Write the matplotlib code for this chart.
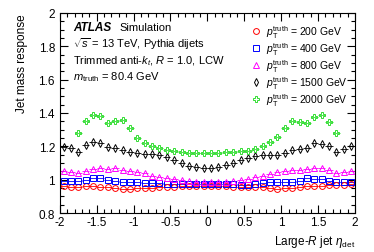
import numpy as np
import matplotlib
matplotlib.use("Agg")
import matplotlib.pyplot as plt
from matplotlib.lines import Line2D
from matplotlib.ticker import MultipleLocator, FormatStrFormatter

plt.rcParams['font.family'] = ['Liberation Sans', 'DejaVu Sans']
plt.rcParams['mathtext.fontset'] = 'custom'
plt.rcParams['mathtext.rm'] = 'Liberation Sans'
plt.rcParams['mathtext.it'] = 'Liberation Sans:italic'
plt.rcParams['mathtext.bf'] = 'Liberation Sans:bold'

# bin centres in eta_det (width 0.1)
eta = np.round(np.arange(-1.95, 2.0, 0.1), 2)

resp_200 = [0.964, 0.955, 0.955, 0.960, 0.960, 0.958, 0.954, 0.948, 0.945, 0.944,
            0.948, 0.948, 0.953, 0.955, 0.957, 0.958, 0.960, 0.960, 0.962, 0.963,
            0.963, 0.962, 0.960, 0.958, 0.958, 0.958, 0.954, 0.954, 0.948, 0.944,
            0.948, 0.948, 0.954, 0.960, 0.960, 0.964, 0.968, 0.968, 0.968, 0.974]
resp_400 = [0.993, 0.993, 0.993, 0.999, 1.008, 1.010, 0.999, 0.993, 0.987, 0.984,
            0.984, 0.980, 0.980, 0.978, 0.976, 0.975, 0.974, 0.973, 0.972, 0.972,
            0.972, 0.972, 0.972, 0.972, 0.970, 0.968, 0.974, 0.980, 0.984, 0.984,
            0.984, 0.987, 0.993, 1.008, 1.004, 1.004, 0.993, 0.987, 0.987, 0.987]
resp_800 = [1.050, 1.045, 1.040, 1.050, 1.062, 1.068, 1.065, 1.068, 1.060, 1.055,
            1.048, 1.038, 1.025, 1.014, 1.008, 1.003, 0.998, 0.990, 0.985, 0.984,
            0.984, 0.985, 0.988, 0.993, 0.998, 1.004, 1.014, 1.023, 1.034, 1.044,
            1.053, 1.059, 1.059, 1.063, 1.068, 1.068, 1.059, 1.040, 1.047, 1.053]
resp_1500 = [1.197, 1.187, 1.169, 1.209, 1.223, 1.217, 1.197, 1.187, 1.179, 1.169,
             1.163, 1.157, 1.157, 1.149, 1.134, 1.120, 1.100, 1.085, 1.077, 1.070,
             1.070, 1.077, 1.089, 1.100, 1.120, 1.130, 1.140, 1.149, 1.149, 1.149,
             1.163, 1.177, 1.183, 1.189, 1.217, 1.213, 1.199, 1.169, 1.183, 1.199]
resp_2000 = [np.nan, np.nan, 1.280, 1.350, 1.390, 1.380, 1.340, 1.350, 1.360, 1.310,
             1.250, 1.220, 1.200, 1.190, 1.180, 1.170, 1.165, 1.160, 1.160, 1.160,
             1.160, 1.160, 1.165, 1.165, 1.170, 1.170, 1.183, 1.203, 1.223, 1.257,
             1.307, 1.353, 1.343, 1.339, 1.377, 1.389, 1.347, 1.277, np.nan, np.nan]

series = [
    (resp_200, 'o', '#ff0000', 4.2, r'$p_{\mathrm{T}}^{\mathrm{truth}}$ = 200 GeV'),
    (resp_400, 's', '#0000ff', 4.0, r'$p_{\mathrm{T}}^{\mathrm{truth}}$ = 400 GeV'),
    (resp_800, '^', '#ff00ff', 4.5, r'$p_{\mathrm{T}}^{\mathrm{truth}}$ = 800 GeV'),
    (resp_1500, 'd', '#000000', 3.6, r'$p_{\mathrm{T}}^{\mathrm{truth}}$ = 1500 GeV'),
    (resp_2000, 'P', '#33dd33', 4.8, r'$p_{\mathrm{T}}^{\mathrm{truth}}$ = 2000 GeV'),
]

fig = plt.figure(figsize=(3.74, 2.53), dpi=100)
ax = fig.add_axes([0.16, 0.154, 0.789, 0.791])

handles = []
for vals, mk, col, ms, lab in series:
    ax.errorbar(eta, vals, xerr=0.05, fmt=mk, mfc='none', mec=col, ecolor=col,
                ms=ms, mew=0.7, elinewidth=0.6, capsize=0)
    handles.append(Line2D([], [], ls='none', marker=mk, mfc='none', mec=col,
                          ms=ms, mew=0.7, label=lab))

ax.set_xlim(-2, 2)
ax.set_ylim(0.8, 2.0)
ax.xaxis.set_major_locator(MultipleLocator(0.5))
ax.xaxis.set_minor_locator(MultipleLocator(0.1))
ax.yaxis.set_major_locator(MultipleLocator(0.2))
ax.yaxis.set_minor_locator(MultipleLocator(0.05))
ax.xaxis.set_major_formatter(FormatStrFormatter('%g'))
ax.yaxis.set_major_formatter(FormatStrFormatter('%g'))
ax.tick_params(which='both', direction='in', top=True, right=True, labelsize=8.5)
ax.tick_params(which='major', length=6, width=0.8)
ax.tick_params(which='minor', length=3, width=0.8)
ax.tick_params(axis='x', pad=2)

ax.set_ylabel('Jet mass response', fontsize=8.5, ha='right', y=1.0)
ax.yaxis.set_label_coords(-0.108, 1.0)
ax.set_xlabel(r'Large-$R$ jet $\eta_{\mathrm{det}}$', fontsize=8.5, ha='right', x=1.0)
ax.xaxis.set_label_coords(1.0, -0.10)

ax.text(0.044, 0.93, 'ATLAS', transform=ax.transAxes, fontsize=8.5, va='center',
        fontweight='bold', fontstyle='italic')
ax.text(0.203, 0.93, 'Simulation', transform=ax.transAxes, fontsize=8, va='center')
ax.text(0.044, 0.85, r'$\sqrt{s}$ = 13 TeV, Pythia dijets', transform=ax.transAxes,
        fontsize=8, va='center')
ax.text(0.044, 0.765, r'Trimmed anti-$k_{t}$, $R$ = 1.0, LCW', transform=ax.transAxes,
        fontsize=8, va='center')
ax.text(0.044, 0.685, r'$m_{\mathrm{truth}}$ = 80.4 GeV', transform=ax.transAxes,
        fontsize=8, va='center')

ax.legend(handles=handles, loc='upper left', bbox_to_anchor=(0.625, 0.985),
          frameon=False, fontsize=7.5, handlelength=0.8, handletextpad=0.6,
          labelspacing=0.02, borderpad=0.2)

fig.savefig('out.png', dpi=100)
